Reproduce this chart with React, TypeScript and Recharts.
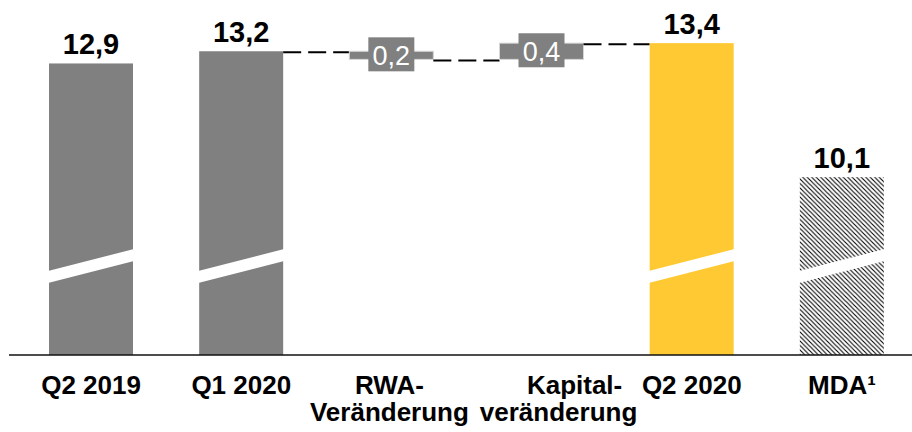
import React from 'react'
import { BarChart, Bar, XAxis, YAxis, LabelList } from 'recharts'

// categories and values
const categories = ['Q2 2019', 'Q1 2020', 'RWA-Veränderung', 'Kapitalveränderung', 'Q2 2020', 'MDA¹']
const tickLines = [['Q2 2019'], ['Q1 2020'], ['RWA-', 'Veränderung'], ['Kapital-', 'veränderung'], ['Q2 2020'], ['MDA¹']]
const totals = [12.9, 13.2, null, null, 13.4, 10.1]
const changes = [null, null, -0.2, 0.4, null, null]
const kinds = ['total', 'total', 'step', 'step', 'total', 'hatch']

// layout / style
const W = 918
const H = 432
const MARGIN = { top: 20, right: 1, bottom: 0, left: 9 }
const PAD_LEFT = 7
const BAR = 84
const AXIS_H = 77
const Y_MIN = 5.72
const Y_MAX = 13.97
const BAND = (W - MARGIN.left - MARGIN.right - PAD_LEFT) / categories.length
const GAP = BAND - BAR
const GREY = '#808080'
const YELLOW = '#FFC933'
const fills = [GREY, GREY, GREY, GREY, YELLOW, 'url(#mdaHatch)']
// per-line horizontal nudges of the tick labels
const tickDx = [[0], [0], [-2, -2], [33, 17], [0], [0]]
const FONT = '"Liberation Sans", Arial, sans-serif'

let level = 0
const data = categories.map((name, i) => {
  const t = totals[i]
  const c = changes[i]
  let bar: number | number[]
  let label: number
  if (t != null) {
    level = t
    bar = t
    label = t
  } else {
    const from = level
    level = +(level + (c as number)).toFixed(2)
    bar = [Math.min(from, level), Math.max(from, level)]
    label = Math.abs(c as number)
  }
  const linked = kinds[i] === 'step' || kinds[i + 1] === 'step'
  const link = linked ? ((c ?? 0) < 0 ? 'bottom' : 'top') : null
  return { name, bar, label, kind: kinds[i], link }
})

const fmt = (v: number) => v.toFixed(1).replace('.', ',')

const BarShape = (props: any) => {
  const { x, y, width, height, index } = props
  const d = data[index]
  const bottom = y + height
  const parts: React.ReactNode[] = []
  if (d.kind === 'step') {
    parts.push(
      <rect key="r" x={x} y={y} width={width} height={height} fill={GREY} stroke="#d6d6d6" strokeWidth={1} />
    )
  } else {
    parts.push(<rect key="r" x={x} y={y} width={width} height={height} fill={fills[index]} />)
    parts.push(
      <polygon
        key="s"
        fill="#fff"
        points={`${x - 1},${bottom - 72} ${x + width + 1},${bottom - 94} ${x + width + 1},${bottom - 106} ${x - 1},${bottom - 84}`}
      />
    )
  }
  if (d.link) {
    const ly = d.link === 'bottom' ? bottom + 1 : y + 1
    parts.push(
      <line key="l" x1={x + width} x2={x + width + GAP} y1={ly} y2={ly} stroke="#000" strokeWidth={2} strokeDasharray="18 7" />
    )
  }
  return <g>{parts}</g>
}

const renderLabel = (p: any) => {
  const vb = p.viewBox ?? p
  const { x, y, width, height } = vb
  const d = data[p.index]
  const cx = x + width / 2
  if (d.kind === 'step') {
    const cy = y + height / 2
    return (
      <g>
        <rect x={cx - 23} y={cy - 18} width={46} height={34} fill={GREY} />
        <text x={cx} y={cy + 10} textAnchor="middle" fill="#fff" fontSize={27} fontFamily={FONT}>
          {fmt(d.label)}
        </text>
      </g>
    )
  }
  return (
    <text x={cx} y={y - 9.5} textAnchor="middle" fill="#000" fontSize={29} fontWeight="bold" fontFamily={FONT}>
      {fmt(d.label)}
    </text>
  )
}

const Tick = (p: any) => {
  const { x, y, payload } = p
  const i = payload.index ?? categories.indexOf(payload.value)
  return (
    <text x={x} y={y + 39} textAnchor="middle" fill="#000" fontSize={26} fontWeight="bold" fontFamily={FONT}>
      {tickLines[i].map((l, k) => (
        <tspan key={k} x={x + tickDx[i][k]} dy={k ? 27 : 0}>
          {l}
        </tspan>
      ))}
    </text>
  )
}

export default function App() {
  return (
    <div style={{ position: 'absolute', left: 0, top: 0, width: 912, height: 432, overflow: 'hidden', background: '#fff' }}>
      <BarChart width={W} height={H} data={data} margin={MARGIN} style={{ fontFamily: FONT }}>
        <defs>
          <pattern id="mdaHatch" patternUnits="userSpaceOnUse" width={4.5} height={4.5}>
            <rect width={4.5} height={4.5} fill="#fff" />
            <path d="M-1,-1 L5.5,5.5 M-1,3.5 L1,5.5 M3.5,-1 L5.5,1" stroke="#000" strokeWidth={1.1} />
          </pattern>
        </defs>
        <XAxis
          dataKey="name"
          interval={0}
          height={AXIS_H}
          tickLine={false}
          tickSize={0}
          tickMargin={0}
          padding={{ left: PAD_LEFT, right: 0 }}
          axisLine={{ stroke: '#111', strokeWidth: 1.5 }}
          tick={<Tick />}
        />
        <YAxis hide domain={[Y_MIN, Y_MAX]} allowDataOverflow />
        <Bar dataKey="bar" barSize={BAR} shape={BarShape} isAnimationActive={false}>
          <LabelList dataKey="label" content={renderLabel} />
        </Bar>
      </BarChart>
    </div>
  )
}
